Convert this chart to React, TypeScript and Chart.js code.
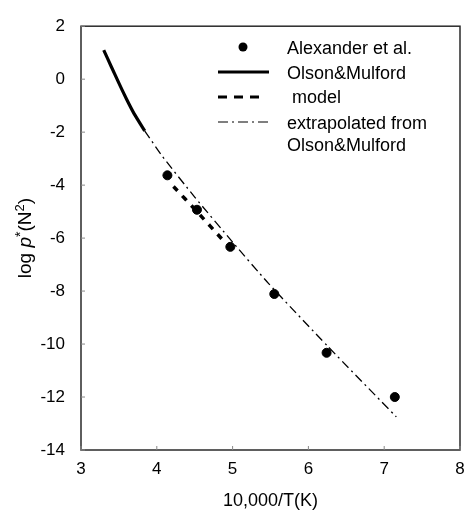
import React, { useEffect, useRef } from "react";
import { Chart, registerables } from "chart.js";

Chart.register(...registerables);

const alexX = [4.14, 4.53, 4.97, 5.55, 6.24, 7.14];
const alexY = [-3.63, -4.93, -6.33, -8.11, -10.33, -12.0];

const olsonX = [3.3, 3.4, 3.5, 3.6, 3.7, 3.84];
const olsonY = [1.1, 0.47, -0.15, -0.75, -1.3, -1.95];

const modelX = [4.22, 4.53, 4.88];
const modelY = [-4.05, -5.0, -6.1];

const extraX = [3.84, 4.07, 4.5, 5.0, 5.47, 6.26, 7.16];
const extraY = [-1.95, -2.9, -4.45, -6.15, -7.7, -10.1, -12.75];

const xTicks = [3, 4, 5, 6, 7, 8];
const yTicks = [2, 0, -2, -4, -6, -8, -10, -12, -14];

const FONT = "'Liberation Sans', Arial, Helvetica, sans-serif";

const pts = (xs: number[], ys: number[]) => xs.map((x, i) => ({ x, y: ys[i] }));

const framePlugin = {
  id: "frameAndLegend",
  afterDraw(chart: any) {
    const { ctx, chartArea } = chart;
    const { left, right, top, bottom } = chartArea;
    const xs = chart.scales.x;
    const ys = chart.scales.y;
    ctx.save();
    // frame
    ctx.strokeStyle = "#2a2a2a";
    ctx.lineWidth = 1.5;
    ctx.setLineDash([]);
    ctx.strokeRect(left, top, right - left, bottom - top);
    // inward ticks
    ctx.strokeStyle = "#888";
    ctx.lineWidth = 1;
    xTicks.forEach((v) => {
      const px = xs.getPixelForValue(v);
      ctx.beginPath();
      ctx.moveTo(px, bottom);
      ctx.lineTo(px, bottom - 4);
      ctx.stroke();
    });
    yTicks.forEach((v) => {
      const py = ys.getPixelForValue(v);
      ctx.beginPath();
      ctx.moveTo(left, py);
      ctx.lineTo(left + 4, py);
      ctx.stroke();
    });

    // legend
    ctx.fillStyle = "#000";
    ctx.strokeStyle = "#000";
    ctx.font = `18px ${FONT}`;
    ctx.textBaseline = "middle";
    ctx.textAlign = "left";
    ctx.beginPath();
    ctx.arc(243, 47, 4.5, 0, Math.PI * 2);
    ctx.fill();
    ctx.fillText("Alexander et al.", 287, 49);
    ctx.lineWidth = 3;
    ctx.beginPath();
    ctx.moveTo(218, 72);
    ctx.lineTo(269, 72);
    ctx.stroke();
    ctx.fillText("Olson&Mulford", 287, 74);
    ctx.setLineDash([9, 7]);
    ctx.beginPath();
    ctx.moveTo(218, 97);
    ctx.lineTo(262, 97);
    ctx.stroke();
    ctx.fillText("model", 292, 98);
    ctx.lineWidth = 1.2;
    ctx.setLineDash([10, 4, 2, 4]);
    ctx.beginPath();
    ctx.moveTo(218, 122);
    ctx.lineTo(269, 122);
    ctx.stroke();
    ctx.setLineDash([]);
    ctx.fillText("extrapolated from", 287, 124);
    ctx.fillText("Olson&Mulford", 287, 146);

    // y axis title: log p*(N²)
    ctx.translate(26, (top + bottom) / 2);
    ctx.rotate(-Math.PI / 2);
    const parts: { t: string; f: string; dy: number }[] = [
      { t: "log ", f: `19px ${FONT}`, dy: 0 },
      { t: "p", f: `italic 19px ${FONT}`, dy: 0 },
      { t: "*", f: `14px ${FONT}`, dy: -5 },
      { t: "(N", f: `19px ${FONT}`, dy: 0 },
      { t: "2", f: `13px ${FONT}`, dy: -6 },
      { t: ")", f: `19px ${FONT}`, dy: 0 },
    ];
    let total = 0;
    parts.forEach((p) => {
      ctx.font = p.f;
      total += ctx.measureText(p.t).width;
    });
    let cx = -total / 2;
    parts.forEach((p) => {
      ctx.font = p.f;
      ctx.fillText(p.t, cx, p.dy);
      cx += ctx.measureText(p.t).width;
    });
    ctx.restore();
  },
};

export default function App() {
  const ref = useRef<HTMLCanvasElement>(null);
  useEffect(() => {
    document.body.style.margin = "0";
    const chart = new Chart(ref.current!, {
      type: "scatter",
      data: {
        datasets: [
          {
            label: "Alexander et al.",
            data: pts(alexX, alexY),
            showLine: false,
            pointRadius: 4.5,
            pointBackgroundColor: "#000",
            pointBorderColor: "#000",
          },
          {
            label: "Olson&Mulford",
            data: pts(olsonX, olsonY),
            showLine: true,
            borderColor: "#000",
            borderWidth: 3.2,
            tension: 0.15,
            pointRadius: 0,
          },
          {
            label: "model",
            data: pts(modelX, modelY),
            showLine: true,
            borderColor: "#000",
            borderWidth: 3.5,
            borderDash: [6, 7],
            tension: 0.2,
            pointRadius: 0,
          },
          {
            label: "extrapolated from Olson&Mulford",
            data: pts(extraX, extraY),
            showLine: true,
            borderColor: "#000",
            borderWidth: 1.3,
            borderDash: [9, 4, 2, 4],
            tension: 0.2,
            pointRadius: 0,
          },
        ],
      },
      options: {
        animation: false,
        responsive: false,
        layout: { padding: { top: 18, right: 0, left: 0, bottom: 0 } },
        plugins: { legend: { display: false }, tooltip: { enabled: false } },
        scales: {
          x: {
            type: "linear",
            min: 3,
            max: 8,
            afterBuildTicks: (s: any) => {
              s.ticks = xTicks.map((v) => ({ value: v }));
            },
            afterFit: (s: any) => {
              s.height = 62;
              s.paddingRight = 8;
            },
            grid: { display: false, drawTicks: false },
            border: { display: false },
            ticks: {
              color: "#000",
              padding: 9,
              font: { family: FONT, size: 17 },
              maxRotation: 0,
            },
            title: {
              display: true,
              text: "10,000/T(K)",
              color: "#000",
              font: { family: FONT, size: 18 },
              padding: { top: 2, bottom: 0 },
            },
          },
          y: {
            type: "linear",
            min: -14,
            max: 2,
            afterBuildTicks: (s: any) => {
              s.ticks = yTicks.map((v) => ({ value: v }));
            },
            afterFit: (s: any) => {
              s.width = 81;
            },
            grid: { display: false, drawTicks: false },
            border: { display: false },
            ticks: {
              color: "#000",
              padding: 16,
              font: { family: FONT, size: 17 },
            },
          },
        },
      },
      plugins: [framePlugin],
    });
    return () => chart.destroy();
  }, []);
  return <canvas ref={ref} width={468} height={512} style={{ display: "block" }} />;
}
